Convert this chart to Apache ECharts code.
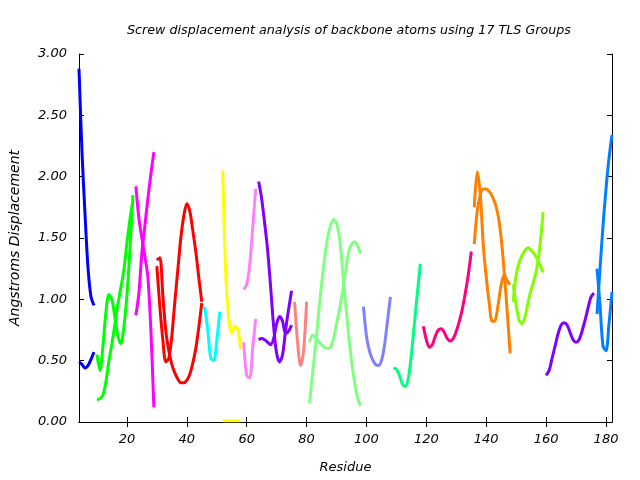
<!DOCTYPE html>
<html>
<head>
<meta charset="utf-8">
<script src="https://cdn.jsdelivr.net/npm/echarts@6/dist/echarts.min.js"></script>
<style>html,body{margin:0;padding:0;background:#fff}#c{width:640px;height:480px}</style>
</head>
<body>
<div id="c"></div>
<script>
const xTicks = [20, 40, 60, 80, 100, 120, 140, 160, 180];
const yTicks = [0, 0.5, 1, 1.5, 2, 2.5, 3];

// Group start residues and per-residue screw displacement values
const g1Start = 4;
const g1a = [2.88, 2.2, 1.7, 1.26, 1.02, 0.95];
const g1b = [0.49, 0.47, 0.44, 0.46, 0.51, 0.57];
const g2Start = 10;
const g2a = [0.55, 0.42, 0.62, 0.9, 1.04, 1.0, 0.85, 0.7, 0.64, 0.78, 1.03, 1.4, 1.85];
const g2b = [0.18, 0.19, 0.22, 0.33, 0.5, 0.64, 0.8, 0.96, 1.1, 1.24, 1.46, 1.65, 1.8];
const g3Start = 23;
const g3a = [1.92, 1.66, 1.5, 1.35, 1.18, 0.75, 0.12];
const g3b = [0.87, 1.05, 1.38, 1.6, 1.82, 2.02, 2.2];
const g4Start = 30;
const g4a = [1.27, 0.94, 0.67, 0.49, 0.52, 0.7, 0.98, 1.24, 1.5, 1.68, 1.78, 1.72, 1.56, 1.39, 1.18, 0.98];
const g4b = [1.32, 1.34, 1.03, 0.74, 0.58, 0.47, 0.4, 0.35, 0.32, 0.32, 0.34, 0.39, 0.48, 0.6, 0.77, 0.97];
const g5Start = 46;
const g5a = [0.94, 0.75, 0.52, 0.5, 0.66, 0.9];
const g6Start = 52;
const g6a = [2.05, 1.2, 0.85, 0.72, 0.78, 0.76, 0.59];
const g6b = [0.01, 0.01, 0.01, 0.01, 0.01, 0.01, 0.01];
const g7Start = 59;
const g7a = [0.65, 0.38, 0.36, 0.6, 0.84];
const g7b = [1.08, 1.12, 1.28, 1.58, 1.9];
const g8Start = 64;
const g8a = [1.96, 1.82, 1.62, 1.4, 1.1, 0.78, 0.56, 0.49, 0.55, 0.75, 0.92, 1.07];
const g8b = [0.67, 0.68, 0.67, 0.65, 0.63, 0.68, 0.8, 0.86, 0.82, 0.72, 0.74, 0.79];
const g9Start = 76;
const g9a = [0.98, 0.65, 0.46, 0.58, 0.98];
const g10Start = 81;
const g10a = [0.15, 0.4, 0.62, 0.88, 1.12, 1.33, 1.5, 1.6, 1.65, 1.62, 1.5, 1.25, 0.98, 0.72, 0.5, 0.33, 0.2, 0.13];
const g10b = [0.65, 0.71, 0.69, 0.66, 0.63, 0.61, 0.6, 0.61, 0.68, 0.8, 0.92, 1.06, 1.22, 1.38, 1.45, 1.47, 1.44, 1.37];
const g11Start = 99;
const g11a = [0.94, 0.7, 0.58, 0.51, 0.47, 0.46, 0.5, 0.62, 0.82, 1.02];
const g12Start = 109;
const g12a = [0.44, 0.43, 0.38, 0.31, 0.29, 0.36, 0.55, 0.8, 1.05, 1.29];
const g13Start = 119;
const g13a = [0.78, 0.67, 0.61, 0.63, 0.7, 0.75, 0.76, 0.73, 0.68, 0.66, 0.68, 0.74, 0.82, 0.92, 1.05, 1.2, 1.39];
const g14Start = 136;
const g14a = [1.75, 2.04, 1.86, 1.45, 1.18, 0.97, 0.82, 0.83, 0.96, 1.12, 1.2, 1.15, 1.12];
const g14b = [1.45, 1.72, 1.85, 1.9, 1.9, 1.88, 1.84, 1.78, 1.68, 1.5, 1.22, 0.9, 0.56];
const g15Start = 149;
const g15a = [1.12, 0.95, 0.83, 0.8, 0.86, 0.98, 1.08, 1.16, 1.27, 1.45, 1.71];
const g15b = [0.98, 1.2, 1.3, 1.36, 1.4, 1.42, 1.4, 1.37, 1.33, 1.28, 1.22];
const g16Start = 160;
const g16a = [0.38, 0.42, 0.52, 0.62, 0.72, 0.79, 0.81, 0.79, 0.73, 0.67, 0.65, 0.67, 0.74, 0.83, 0.93, 1.02, 1.05];
const g17Start = 177;
const g17a = [1.25, 0.95, 0.62, 0.58, 0.8, 1.06];
const g17b = [0.88, 1.25, 1.6, 1.9, 2.15, 2.34];

const lines = [
  [g1Start, g1a, '#0000ff'], [g1Start, g1b, '#0000ff'],
  [g2Start, g2a, '#00ff00'], [g2Start, g2b, '#00ff00'],
  [g3Start, g3a, '#ff00ff'], [g3Start, g3b, '#ff00ff'],
  [g4Start, g4a, '#ff0000'], [g4Start, g4b, '#ff0000'],
  [g5Start, g5a, '#00ffff'],
  [g6Start, g6a, '#ffff00'], [g6Start, g6b, '#ffff00'],
  [g7Start, g7a, '#ff80ff'], [g7Start, g7b, '#ff80ff'],
  [g8Start, g8a, '#8000ff'], [g8Start, g8b, '#8000ff'],
  [g9Start, g9a, '#ff8080'],
  [g10Start, g10a, '#80ff80'], [g10Start, g10b, '#80ff80'],
  [g11Start, g11a, '#8080ff'],
  [g12Start, g12a, '#00ff80'],
  [g13Start, g13a, '#ff0080'],
  [g14Start, g14a, '#ff8000'], [g14Start, g14b, '#ff8000'],
  [g15Start, g15a, '#80ff00'], [g15Start, g15b, '#80ff00'],
  [g16Start, g16a, '#8000ff'],
  [g17Start, g17a, '#0080ff'], [g17Start, g17b, '#0080ff']
];

const series = lines.map(([start, vals, color]) => ({
  type: 'line',
  data: vals.map((v, i) => [start + i, v]),
  showSymbol: false,
  symbol: 'none',
  smooth: 0.3,
  clip: true,
  lineStyle: { color: color, width: 3 },
  silent: true,
  animation: false
}));

const font = 'DejaVu Sans';
const chart = echarts.init(document.getElementById('c'), null, { renderer: 'canvas' });
const axCommon = {
  axisLine: { show: true, lineStyle: { color: '#000', width: 1 } },
  axisTick: { show: true, inside: true, length: 5, lineStyle: { color: '#000' } },
  splitLine: { show: false }
};
chart.setOption({
  animation: false,
  backgroundColor: '#fff',
  title: {
    text: 'Screw displacement analysis of backbone atoms using 17 TLS Groups',
    left: 344, textAlign: 'center', top: 19,
    textStyle: { fontFamily: font, fontStyle: 'italic', fontWeight: 'normal', fontSize: 12.7, color: '#000' }
  },
  grid: { left: 76, right: 28, top: 54, bottom: 58 },
  xAxis: [
    Object.assign({}, axCommon, {
      type: 'value', min: 4, max: 182, position: 'bottom',
      name: 'Residue', nameLocation: 'middle', nameGap: 39,
      nameTextStyle: { fontFamily: font, fontStyle: 'italic', fontSize: 13, color: '#000' },
      axisTick: Object.assign({}, axCommon.axisTick, { customValues: xTicks }),
      axisLabel: { customValues: xTicks, fontFamily: font, fontStyle: 'italic', fontSize: 13, color: '#000', margin: 11 }
    }),
    Object.assign({}, axCommon, {
      type: 'value', min: 4, max: 182, position: 'top',
      axisTick: Object.assign({}, axCommon.axisTick, { customValues: xTicks }),
      axisLabel: { show: false }
    })
  ],
  yAxis: [
    Object.assign({}, axCommon, {
      type: 'value', min: 0, max: 3, interval: 0.5, position: 'left',
      name: 'Angstroms Displacement', nameLocation: 'middle', nameGap: 57,
      nameTextStyle: { fontFamily: font, fontStyle: 'italic', fontSize: 14, color: '#000' },
      axisLabel: { formatter: v => v.toFixed(2), fontFamily: font, fontStyle: 'italic', fontSize: 13, color: '#000', margin: 12 }
    }),
    Object.assign({}, axCommon, {
      type: 'value', min: 0, max: 3, interval: 0.5, position: 'right',
      axisLabel: { show: false }
    })
  ],
  series: series
});
</script>
</body>
</html>
